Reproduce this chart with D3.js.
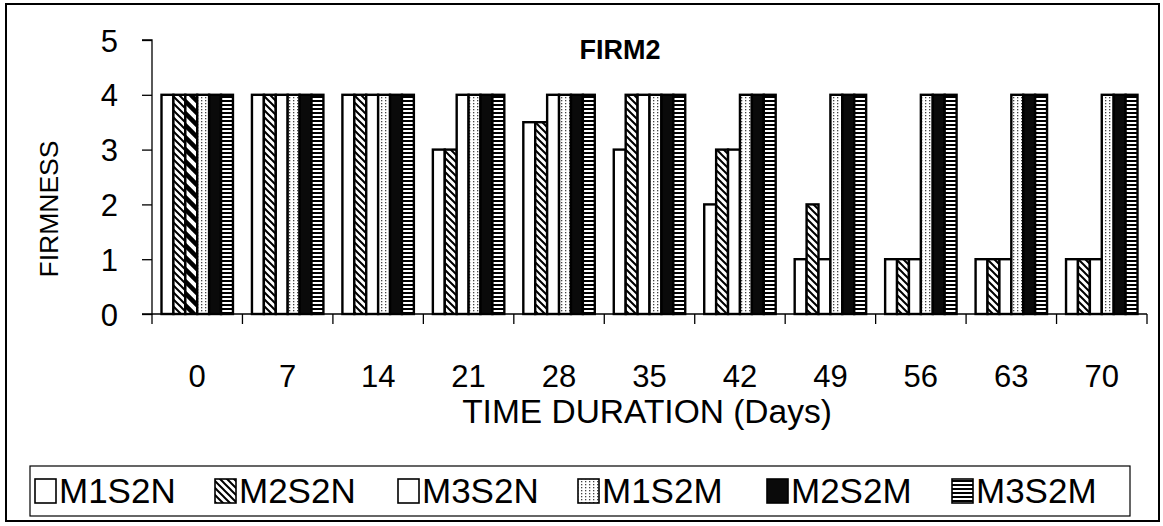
<!DOCTYPE html>
<html><head><meta charset="utf-8">
<script src="https://cdn.jsdelivr.net/npm/d3@7/dist/d3.min.js"></script>
<style>html,body{margin:0;padding:0;background:#fff;}svg{display:block;font-family:"Liberation Sans",Arial,sans-serif;}</style>
</head><body>
<svg id="chart" width="1163" height="526"></svg>
<script>
// Days of storage
const days = ["0","7","14","21","28","35","42","49","56","63","70"];
// Treatment series
const seriesNames = ["M1S2N","M2S2N","M3S2N","M1S2M","M2S2M","M3S2M"];
const M1S2N = [4,4,4,3,3.5,3,2,1,1,1,1];
const M2S2N = [4,4,4,3,3.5,4,3,2,1,1,1];
const M3S2N = [4,4,4,4,4,4,3,1,1,1,1];
const M1S2M = [4,4,4,4,4,4,4,4,4,4,4];
const M2S2M = [4,4,4,4,4,4,4,4,4,4,4];
const M3S2M = [4,4,4,4,4,4,4,4,4,4,4];
const yTicks = [0,1,2,3,4,5];
const seriesValues = [M1S2N,M2S2N,M3S2N,M1S2M,M2S2M,M3S2M];

const svg = d3.select("#chart");
const defs = svg.append("defs");

// Fill patterns
const pDiag = defs.append("pattern").attr("id","pDiag").attr("patternUnits","userSpaceOnUse").attr("width",7).attr("height",7);
pDiag.append("rect").attr("width",7).attr("height",7).attr("fill","#fff");
pDiag.append("path").attr("d","M-1,-1 L8,8 M-1,6 L1,8 M6,-1 L8,1").attr("stroke","#000").attr("stroke-width",2);

// heavier diagonal used on the first M3S2N bar (printed darker)
const pDiagBold = defs.append("pattern").attr("id","pDiagBold").attr("patternUnits","userSpaceOnUse").attr("width",12).attr("height",12);
pDiagBold.append("rect").attr("width",12).attr("height",12).attr("fill","#fff");
pDiagBold.append("path").attr("d","M-2,-2 L14,14 M-2,10 L2,14 M10,-2 L14,2").attr("stroke","#000").attr("stroke-width",4.5);

const pDots = defs.append("pattern").attr("id","pDots").attr("patternUnits","userSpaceOnUse").attr("width",4).attr("height",3);
pDots.append("rect").attr("width",4).attr("height",3).attr("fill","#fff");
pDots.append("rect").attr("x",1).attr("y",1).attr("width",1.3).attr("height",1.3).attr("fill","#444");

const pHoriz = defs.append("pattern").attr("id","pHoriz").attr("patternUnits","userSpaceOnUse").attr("width",8).attr("height",4);
pHoriz.append("rect").attr("width",8).attr("height",4).attr("fill","#fff");
pHoriz.append("rect").attr("y",0).attr("width",8).attr("height",2).attr("fill","#000");

const fills = ["#fff","url(#pDiag)","#fff","url(#pDots)","#0a0a0a","url(#pHoriz)"];

// Outer frame
svg.append("rect").attr("x",6).attr("y",4).attr("width",1153).attr("height",517)
  .attr("fill","none").attr("stroke","#000").attr("stroke-width",2);

const x0 = d3.scaleBand().domain(days).range([152,1147]).paddingInner(0.21).paddingOuter(0.105);
const x1 = d3.scaleBand().domain(seriesNames).range([0,x0.bandwidth()]);
const y = d3.scaleLinear().domain([0,5]).range([314,40]);

// Bars
const g = svg.append("g");
days.forEach((d,i)=>{
  seriesNames.forEach((s,j)=>{
    const v = seriesValues[j][i];
    const fill = (i===0 && s==="M3S2N") ? "url(#pDiagBold)" : fills[j];
    g.append("rect")
      .attr("x", x0(d)+x1(s))
      .attr("y", y(v))
      .attr("width", x1.bandwidth())
      .attr("height", y(0)-y(v))
      .attr("fill", fill)
      .attr("stroke","#000").attr("stroke-width",2.4);
  });
});

// Y axis
const yAxis = svg.append("g").attr("transform","translate(152,0)")
  .call(d3.axisLeft(y).tickValues(yTicks).tickSize(10).tickPadding(24).tickFormat(d3.format("d")));
yAxis.selectAll("path,line").attr("stroke","#000").attr("stroke-width",1.3);
yAxis.select(".domain").attr("d","M-10,"+y(5)+"H0V"+y(0)+"H-10");
yAxis.selectAll("text").attr("font-size",31).attr("fill","#000").attr("dy","0.36em").style("font-family","Liberation Sans, Arial, sans-serif");

// X axis: category boundaries carry the ticks
const xAxis = svg.append("g").attr("transform","translate(0,"+y(0)+")");
xAxis.append("line").attr("x1",152).attr("x2",1147).attr("stroke","#000").attr("stroke-width",1.3);
d3.range(days.length+1).forEach(k=>{
  const xx = 152 + k*(995/days.length);
  xAxis.append("line").attr("x1",xx).attr("x2",xx).attr("y1",0).attr("y2",10).attr("stroke","#000").attr("stroke-width",1.3);
});
xAxis.selectAll("text.tl").data(days).enter().append("text").attr("class","tl")
  .attr("x",d=>x0(d)+x0.bandwidth()/2).attr("y",73)
  .attr("text-anchor","middle").attr("font-size",31).attr("fill","#000").text(d=>d);

// Titles
svg.append("text").attr("x",620).attr("y",59).attr("text-anchor","middle")
  .attr("font-size",27).attr("font-weight","bold").text("FIRM2");
svg.append("text").attr("x",647).attr("y",423).attr("text-anchor","middle")
  .attr("font-size",33.5).text("TIME DURATION (Days)");
svg.append("text").attr("transform","translate(58,209) rotate(-90)").attr("text-anchor","middle")
  .attr("font-size",26.5).text("FIRMNESS");

// Legend
svg.append("rect").attr("x",30).attr("y",466).attr("width",1100).attr("height",50)
  .attr("fill","none").attr("stroke","#000").attr("stroke-width",1.2);
const legendX = [35,215,398,578,767,952];
seriesNames.forEach((s,j)=>{
  svg.append("rect").attr("x",legendX[j]).attr("y",479).attr("width",21).attr("height",24)
    .attr("fill",fills[j]).attr("stroke","#000").attr("stroke-width",1.6);
  svg.append("text").attr("x",legendX[j]+24).attr("y",503).attr("font-size",35).text(s);
});
</script>
</body></html>
